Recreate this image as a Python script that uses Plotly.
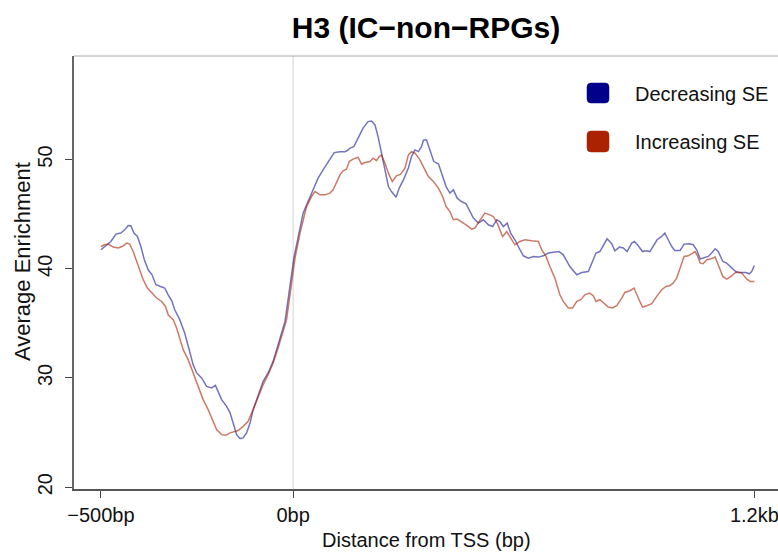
import plotly.graph_objects as go

# Average H3 enrichment around the TSS, IC non-RPG genes
dec_bp = [-500, -481, -474, -461, -448, -438, -429, -422, -414, -405, -396, -387, -377, -367,
          -357, -345, -334, -325, -315, -308, -295, -282, -269, -260, -251, -238, -225, -212,
          -202, -195, -186, -173, -164, -156, -147, -138, -130, -121, -112, -104, -91, -78,
          -65, -52, -39, -30, -21, 2, 13, 26, 39, 52, 65, 78, 91, 107, 122, 135, 141, 148,
          158, 169, 182, 195, 204, 213, 221, 230, 239, 248, 256, 268, 276, 287, 300, 308,
          317, 326, 334, 339, 347, 356, 366, 378, 386, 398, 408, 417, 427, 438, 450, 460,
          469, 482, 495, 508, 519, 530, 538, 547, 557, 566, 577, 588, 599, 612, 625, 638,
          651, 664, 677, 692, 703, 716, 720, 738, 751, 768, 777, 788, 798, 807, 817, 829,
          837, 849, 859, 869, 881, 888, 898, 909, 918, 928, 937, 947, 959, 967, 976, 985,
          993, 1007, 1017, 1031, 1041, 1050, 1059, 1070, 1080, 1089, 1098, 1106, 1118, 1128,
          1141, 1154, 1167, 1178, 1187, 1193, 1200]
dec_val = [41.74, 42.26, 42.50, 43.18, 43.27, 43.57, 43.96, 43.94, 43.27, 42.96, 42.04, 40.83,
           39.91, 39.45, 38.54, 38.38, 38.24, 37.62, 37.01, 36.25, 35.34, 34.12, 32.29, 31.22,
           30.46, 30.00, 29.23, 29.09, 29.32, 28.77, 28.02, 27.40, 26.80, 25.88, 24.81, 24.45,
           24.51, 24.97, 25.88, 27.10, 28.47, 29.69, 30.46, 31.52, 33.05, 34.12, 35.18, 40.98,
           42.96, 45.10, 46.16, 47.23, 48.30, 49.06, 49.82, 50.64, 50.73, 50.73, 50.83, 51.05,
           51.19, 51.96, 52.88, 53.48, 53.54, 53.18, 52.11, 50.59, 48.90, 47.53, 47.07, 46.56,
           47.39, 48.15, 49.22, 50.28, 50.89, 50.73, 51.19, 51.78, 51.81, 50.89, 49.82, 49.61,
           48.76, 47.53, 46.93, 47.23, 46.47, 46.16, 45.95, 45.24, 44.64, 44.18, 44.49, 44.03,
           43.87, 44.49, 44.33, 43.87, 44.18, 43.27, 42.66, 41.90, 41.19, 40.98, 41.13, 41.07,
           41.19, 41.44, 41.49, 41.58, 41.28, 40.52, 40.21, 39.45, 39.66, 39.75, 40.52, 41.44,
           41.58, 42.20, 42.75, 42.29, 41.65, 41.99, 41.90, 41.58, 42.35, 42.50, 42.11, 41.58,
           41.65, 41.58, 42.04, 42.66, 42.96, 43.27, 42.66, 42.04, 41.68, 41.68, 42.26, 42.29,
           42.20, 41.74, 40.89, 41.04, 41.13, 41.44, 41.83, 41.58, 40.67, 40.52, 40.07, 39.66,
           39.66, 39.66, 39.54, 39.75, 40.30]

inc_bp = [-500, -490, -481, -468, -455, -445, -433, -425, -416, -407, -399, -390, -379, -368,
          -355, -342, -332, -325, -312, -303, -295, -286, -273, -260, -247, -234, -221, -212,
          -199, -186, -175, -164, -153, -143, -130, -117, -104, -91, -78, -65, -52, -39, -26,
          -17, 5, 18, 35, 48, 57, 70, 83, 96, 104, 113, 122, 130, 139, 146, 156, 169, 178,
          187, 200, 208, 217, 224, 230, 239, 248, 258, 269, 280, 291, 300, 308, 317, 330,
          343, 352, 365, 378, 389, 398, 408, 417, 427, 438, 450, 465, 473, 484, 499, 512,
          521, 531, 545, 556, 566, 577, 590, 603, 621, 638, 647, 658, 668, 681, 694, 703,
          716, 727, 738, 748, 759, 771, 781, 788, 798, 809, 820, 831, 842, 855, 863, 876,
          887, 898, 909, 920, 933, 946, 959, 970, 980, 989, 998, 1007, 1017, 1028, 1040,
          1046, 1052, 1059, 1067, 1076, 1086, 1098, 1106, 1118, 1128, 1141, 1154, 1167, 1180,
          1189, 1200]
inc_val = [42.04, 42.20, 42.26, 41.99, 41.90, 42.04, 42.35, 42.26, 41.58, 40.67, 39.91, 39.00,
           38.24, 37.78, 37.32, 37.01, 36.55, 35.79, 35.34, 34.58, 33.66, 32.59, 31.68, 30.46,
           29.23, 28.02, 27.10, 26.34, 25.27, 24.81, 24.75, 24.97, 25.11, 25.18, 25.57, 26.03,
           27.10, 28.32, 29.39, 30.30, 31.37, 32.75, 34.42, 35.34, 40.98, 43.27, 45.70, 46.62,
           47.07, 46.77, 46.77, 46.93, 47.23, 47.84, 48.60, 48.97, 49.12, 49.82, 50.04, 50.22,
           49.58, 49.73, 49.82, 50.13, 49.91, 50.28, 50.43, 49.67, 48.76, 47.99, 48.51, 48.67,
           49.22, 50.43, 50.73, 50.59, 49.98, 49.06, 48.45, 47.99, 47.39, 46.62, 45.70, 45.24,
           44.49, 44.55, 44.33, 44.03, 43.63, 43.73, 44.33, 45.10, 44.94, 44.79, 44.18, 42.96,
           43.41, 42.81, 42.20, 42.50, 42.66, 42.56, 42.50, 41.74, 41.13, 40.21, 39.15, 37.62,
           37.01, 36.41, 36.41, 37.01, 37.17, 37.62, 37.78, 37.53, 37.01, 37.17, 36.86, 36.50,
           36.41, 36.62, 37.32, 37.83, 37.99, 38.24, 37.32, 36.50, 36.62, 36.80, 37.47, 38.08,
           38.38, 38.45, 38.69, 39.15, 40.07, 41.13, 41.19, 41.44, 41.58, 41.19, 40.52, 40.46,
           40.83, 40.89, 41.07, 40.37, 39.30, 39.06, 39.36, 39.75, 39.61, 39.06, 38.84, 38.84]

series_names = ["Decreasing SE", "Increasing SE"]
series_colors = ["#00008B", "#AA2200"]
line_colors = ["rgba(0,0,139,0.55)", "rgba(170,34,0,0.6)"]

x_tickvals = [-500, 0, 1200]
x_ticktext = ["\u2212500bp", "0bp", "1.2kb"]
y_tickvals = [20, 30, 40, 50]

FONT = "Liberation Sans, Arial, Helvetica, sans-serif"
W, H = 778, 555
ML, MR, MT, MB = 74, 0, 56, 66
PW, PH = W - ML - MR, H - MT - MB


def px_x(px):
    return (px - ML) / PW


def px_y(py):
    return (H - MB - py) / PH


def rounded_box(left, top, right, bottom, r=4):
    """SVG path (paper coords) for a rounded legend key given pixel edges."""
    x0, x1 = px_x(left), px_x(right)
    y0, y1 = px_y(bottom), px_y(top)
    rx, ry = r / PW, r / PH
    return (f"M {x0 + rx},{y0} L {x1 - rx},{y0} Q {x1},{y0} {x1},{y0 + ry} "
            f"L {x1},{y1 - ry} Q {x1},{y1} {x1 - rx},{y1} "
            f"L {x0 + rx},{y1} Q {x0},{y1} {x0},{y1 - ry} "
            f"L {x0},{y0 + ry} Q {x0},{y0} {x0 + rx},{y0} Z")


fig = go.Figure()
for xs, ys, name, col in [(dec_bp, dec_val, series_names[0], line_colors[0]),
                          (inc_bp, inc_val, series_names[1], line_colors[1])]:
    fig.add_trace(go.Scatter(x=xs, y=ys, mode="lines", name=name,
                             line=dict(color=col, width=1.5), showlegend=False))

shapes = [
    # TSS marker
    dict(type="line", xref="x", yref="paper", x0=0, x1=0, y0=0, y1=1,
         line=dict(color="#d4d4d4", width=1), layer="below"),
    # top frame line
    dict(type="line", xref="paper", yref="paper", x0=0, x1=1.01, y0=1, y1=1,
         line=dict(color="#a8a8a8", width=1)),
]

annotations = []
legend_rows = [(83, 103, 94), (131, 152, 142)]
for (top, bot, mid), name, col in zip(legend_rows, series_names, series_colors):
    shapes.append(dict(type="path", xref="paper", yref="paper",
                       path=rounded_box(587, top, 609, bot),
                       fillcolor=col, line=dict(color=col, width=0.5)))
    annotations.append(dict(text=name, xref="paper", yref="paper", x=px_x(633), y=px_y(mid),
                            xanchor="left", yanchor="middle", showarrow=False,
                            font=dict(size=20, color="#111", family=FONT)))

annotations.append(dict(text="Distance from TSS (bp)", xref="paper", yref="paper",
                        x=0.5, y=px_y(540), xanchor="center", yanchor="middle",
                        showarrow=False, font=dict(size=20, color="#111", family=FONT)))
annotations.append(dict(text="Average Enrichment", xref="paper", yref="paper",
                        x=px_x(22), y=px_y(262), xanchor="center", yanchor="middle",
                        textangle=-90, showarrow=False,
                        font=dict(size=22, color="#111", family=FONT)))

fig.update_layout(
    width=W, height=H,
    margin=dict(l=ML, r=MR, t=MT, b=MB, pad=0),
    paper_bgcolor="white", plot_bgcolor="white",
    title=dict(text="<b>H3 (IC\u2212non\u2212RPGs)</b>", x=0.5, xref="paper",
               y=1 - 27 / H, yref="container", xanchor="center", yanchor="middle",
               font=dict(size=30, color="#000", family=FONT)),
    xaxis=dict(range=[-570, 1261.5], tickvals=x_tickvals, ticktext=x_ticktext,
               ticks="outside", ticklen=7, tickwidth=1, tickcolor="#444",
               showline=True, linecolor="#555", linewidth=2,
               showgrid=False, zeroline=False, ticklabeloverflow="allow",
               tickfont=dict(size=20, color="#111", family=FONT)),
    yaxis=dict(range=[19.83, 59.49], tickvals=y_tickvals, tickangle=-90,
               ticks="outside", ticklen=7, tickwidth=1, tickcolor="#444",
               showline=True, linecolor="#666", linewidth=2,
               showgrid=False, zeroline=False, ticklabelstandoff=5,
               tickfont=dict(size=20, color="#111", family=FONT)),
    shapes=shapes,
    annotations=annotations,
    showlegend=False,
)

fig.write_html("out.html")
